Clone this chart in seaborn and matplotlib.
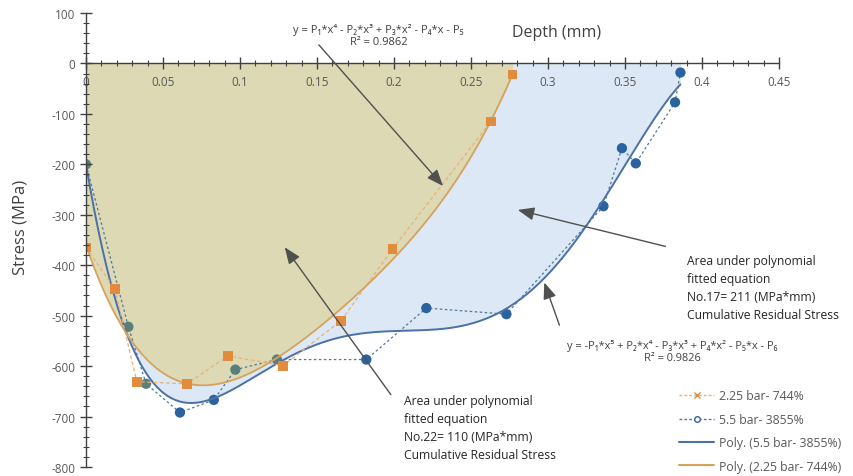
import numpy as np
import pandas as pd
import seaborn as sns
import matplotlib.pyplot as plt
from matplotlib.lines import Line2D
from matplotlib.ticker import MultipleLocator, FixedLocator

# measured points (depth mm, stress MPa)
depth_225 = [0.0, 0.0188, 0.033, 0.0656, 0.092, 0.128, 0.1656, 0.199, 0.263, 0.277]
stress_225 = [-365, -447, -631, -635, -580, -599, -510, -368, -115, -22]

depth_55 = [0.0, 0.0275, 0.039, 0.061, 0.083, 0.097, 0.124, 0.182, 0.221, 0.273,
            0.336, 0.348, 0.357, 0.3825, 0.386]
stress_55 = [-200, -522, -635, -692, -667, -607, -587, -587, -485, -497,
             -283, -168, -198, -77, -18]

x_ticks = [0, 0.05, 0.1, 0.15, 0.2, 0.25, 0.3, 0.35, 0.4, 0.45]
x_tick_labels = ['0', '0.05', '0.1', '0.15', '0.2', '0.25', '0.3', '0.35', '0.4', '0.45']
y_ticks = [100, 0, -100, -200, -300, -400, -500, -600, -700, -800]

df225 = pd.DataFrame({'depth': depth_225, 'stress': stress_225})
df55 = pd.DataFrame({'depth': depth_55, 'stress': stress_55})

sns.set_style('white')
plt.rcParams['font.family'] = ['Open Sans', 'DejaVu Sans']
plt.rcParams['axes.unicode_minus'] = False

gray = '#595959'
orange = '#e38b3d'
orange_line = '#d6a35f'
blue = '#2b62a0'
teal = '#5a7f7a'
blue_line = '#4a72a6'

# circles sitting in the shaded olive area look greenish in the screenshot
pt_colors = [teal, teal, teal, blue, blue, teal, teal, blue, blue, blue,
             blue, blue, blue, blue, blue]

fig = plt.figure(figsize=(8.54, 4.77), dpi=100)
ax = fig.add_axes([86 / 854, 1 - 468 / 477, (779 - 86) / 854, (468 - 14) / 477])

# excel style polynomial trendlines
p225 = np.polyfit(df225['depth'], df225['stress'], 4)
p55 = np.polyfit(df55['depth'], df55['stress'], 5)
xs225 = np.linspace(min(depth_225), max(depth_225), 300)
xs55 = np.linspace(min(depth_55), max(depth_55), 300)
fit225 = np.polyval(p225, xs225)
fit55 = np.polyval(p55, xs55)

ax.fill_between(xs55, 0, fit55, color='#dce8f5', lw=0, zorder=1)
ax.fill_between(xs225, 0, fit225, color='#dcd9b4', lw=0, zorder=1.5)

sns.lineplot(data=df55, x='depth', y='stress', ax=ax, color='#55759c', lw=0.9,
             linestyle=(0, (2, 2)), sort=False, zorder=3)
ax.scatter(df55['depth'], df55['stress'], c=pt_colors, s=55, edgecolor='none', zorder=3)
ax.plot(xs55, fit55, color=blue_line, lw=1.4, zorder=3)

sns.lineplot(data=df225, x='depth', y='stress', ax=ax, color='#e8b27a', lw=0.9,
             linestyle=(0, (3, 2)), sort=False, zorder=4)
sns.scatterplot(data=df225, x='depth', y='stress', ax=ax, color=orange, marker='s',
                s=50, edgecolor='none', zorder=5)
ax.plot(xs225, fit225, color=orange_line, lw=1.3, zorder=4)

ax.set_xlim(0, 0.45)
ax.set_ylim(-800, 100)
ax.spines['left'].set_position(('data', 0))
ax.spines['bottom'].set_position(('data', 0))
ax.spines['top'].set_visible(False)
ax.spines['right'].set_visible(False)
for s in ['left', 'bottom']:
    ax.spines[s].set_color('#404040')
    ax.spines[s].set_linewidth(1.0)
    ax.spines[s].set_zorder(6)
ax.xaxis.set_zorder(6)
ax.yaxis.set_zorder(6)

ax.xaxis.set_major_locator(FixedLocator(x_ticks))
ax.set_xticklabels(x_tick_labels)
ax.xaxis.set_minor_locator(MultipleLocator(0.01))
ax.set_yticks(y_ticks)
ax.set_yticklabels([str(v) for v in y_ticks])
ax.yaxis.set_minor_locator(MultipleLocator(20))
ax.tick_params(which='major', direction='inout', length=8, width=1, color='#404040',
               labelsize=8.5, labelcolor=gray, bottom=True, left=True)
ax.tick_params(which='minor', direction='inout', length=4, width=0.8, color='#404040',
               bottom=True, left=True)
ax.tick_params(axis='x', pad=4)
ax.set_xlabel('')
ax.set_ylabel('')

fig.text(557 / 854, 1 - 33 / 477, 'Depth (mm)', ha='center', va='center',
         fontsize=11.5, color='#404040')
fig.text(21 / 854, 1 - 227 / 477, 'Stress (MPa)', ha='center', va='center',
         rotation=90, fontsize=12, color='#404040')

arrow = dict(arrowstyle='-|>,head_length=1.0,head_width=0.4', color='#505050', lw=1.0)

ax.annotate('', xy=(0.233, -247), xytext=(0.150, 41), arrowprops=arrow, zorder=7)
ax.text(0.19, 56, 'y = P\u2081*x\u2074 - P\u2082*x\u00b3 + P\u2083*x\u00b2 - P\u2084*x - P\u2085\nR\u00b2 = 0.9862',
        ha='center', va='center', fontsize=8, color='#404040', linespacing=1.1)

ax.annotate('', xy=(0.2786, -289), xytext=(0.378, -364), arrowprops=arrow, zorder=7)
ax.text(0.390, -445, 'Area under polynomial\nfitted equation\nNo.17= 211 (MPa*mm)\nCumulative Residual Stress',
        ha='left', va='center', fontsize=8.7, color='#262626', linespacing=1.5)

ax.annotate('', xy=(0.297, -429), xytext=(0.308, -524), arrowprops=arrow, zorder=7)
ax.text(0.3805, -570, 'y = -P\u2081*x\u2075 + P\u2082*x\u2074 - P\u2083*x\u00b3 + P\u2084*x\u00b2 - P\u2085*x - P\u2086\nR\u00b2 = 0.9826',
        ha='center', va='center', fontsize=7.9, color='#404040', linespacing=1.1)

ax.annotate('', xy=(0.128, -360), xytext=(0.199, -661), arrowprops=arrow, zorder=7)
ax.text(0.2065, -722, 'Area under polynomial\nfitted equation\nNo.22= 110 (MPa*mm)\nCumulative Residual Stress',
        ha='left', va='center', fontsize=8.7, color='#262626', linespacing=1.5)

handles = [
    Line2D([], [], color='#e8b27a', lw=1, linestyle=(0, (2, 1.5)), marker='x',
           markersize=4, markeredgecolor=orange),
    Line2D([], [], color='#55759c', lw=1, linestyle=(0, (2, 1.5)), marker='o',
           markersize=4, markerfacecolor='white', markeredgecolor=blue),
    Line2D([], [], color=blue_line, lw=1.5),
    Line2D([], [], color=orange_line, lw=1.5),
]
labels = ['2.25 bar- 744%', '5.5 bar- 3855%', 'Poly. (5.5 bar- 3855%)', 'Poly. (2.25 bar- 744%)']
leg = fig.legend(handles, labels, loc='center left',
                 bbox_to_anchor=(679 / 854, 1 - 432 / 477), frameon=False,
                 fontsize=8.8, labelcolor=gray, handlelength=2.9, handletextpad=0.4,
                 labelspacing=0.85, borderaxespad=0, borderpad=0)

fig.savefig('out.png', dpi=100)
